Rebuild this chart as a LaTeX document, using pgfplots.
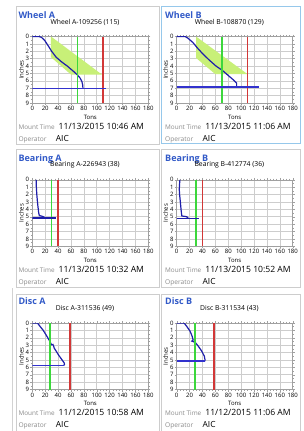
\documentclass[border=0pt]{standalone}
\usepackage{pgfplots}
\pgfplotsset{compat=1.18}
\usepackage{fontspec}
\setmainfont{Open Sans}
\definecolor{curveblue}{RGB}{30,30,170}
\definecolor{lineblue}{RGB}{50,50,205}
\definecolor{limitgreen}{RGB}{60,215,60}
\definecolor{limitred}{RGB}{210,55,55}
\definecolor{bandgreen}{RGB}{200,240,120}
\definecolor{titleblue}{RGB}{50,90,200}
\definecolor{framegray}{RGB}{205,205,205}
\definecolor{selblue}{RGB}{150,200,235}
\definecolor{labgray}{RGB}{140,140,140}
\definecolor{gridgray}{RGB}{205,205,205}
\definecolor{axgray}{RGB}{160,160,160}

\pgfplotsset{
  panel/.style={
    scale only axis, width=116pt, height=66.5pt, anchor=north west,
    xmin=0, xmax=180, ymin=0, ymax=9, y dir=reverse,
    xtick={0,20,...,180}, ytick={0,1,...,9},
    minor x tick num=3, minor y tick num=1,
    grid=major, major grid style={draw=gridgray, line width=0.5pt},
    axis line style={draw=axgray, line width=0.5pt},
    tick style={draw=axgray, line width=0.4pt},
    tick align=outside, major tick length=2pt, minor tick length=1.2pt,
    /pgf/number format/assume math mode=true,
    ticklabel style={font=\fontsize{6}{6}\selectfont, inner sep=1pt},
    xlabel={Tons}, ylabel={Inches},
    label style={font=\fontsize{6}{6}\selectfont},
    xlabel style={at={(axis description cs:0.5,-0.215)}, anchor=center},
    ylabel style={at={(axis description cs:-0.095,0.5)}, anchor=center},
    title style={at={(axis description cs:0.454,1.128)}, anchor=center, font=\fontsize{6.8}{7}\selectfont},
  },
  curve/.style={color=curveblue, line width=1.2pt, mark=none},
  hline/.style={color=lineblue, line width=1.6pt, mark=none},
  band/.style={fill=bandgreen, draw=none, mark=none},
  glim/.style={color=limitgreen, line width=1.7pt, mark=none},
  rlim/.style={color=limitred, line width=1.7pt, mark=none},
}

\newcommand\ptxt[5]{%
  \node[anchor=base west, inner sep=0pt, text=titleblue, font=\fontsize{9}{9}\selectfont\bfseries] at ({#1*1pt},{-(#2+18.2)*1pt}) {#3};
  \node[anchor=base west, inner sep=0pt, text=labgray, font=\fontsize{6.4}{7}\selectfont] at ({#1*1pt},{-(#2+129.2)*1pt}) {Mount Time};
  \node[anchor=base west, inner sep=0pt, font=\fontsize{8.6}{9}\selectfont] at ({(#1+40.2)*1pt},{-(#2+129.2)*1pt}) {#4};
  \node[anchor=base west, inner sep=0pt, text=labgray, font=\fontsize{6.6}{7}\selectfont] at ({#1*1pt},{-(#2+141.4)*1pt}) {Operator};
  \node[anchor=base west, inner sep=0pt, font=\fontsize{8.4}{9}\selectfont] at ({(#1+37.4)*1pt},{-(#2+141.4)*1pt}) {#5};
}

\begin{document}
\begin{tikzpicture}
\useasboundingbox (0pt,0pt) rectangle (303pt,-431pt);
\fill[white] (0pt,0pt) rectangle (303pt,-431pt);
% frames
\draw[framegray, line width=0.6pt] (16pt,-6pt) rectangle (159pt,-144pt);
\draw[selblue, line width=1pt] (161.7pt,-6.5pt) rectangle (300.7pt,-143.5pt);
\draw[framegray, line width=0.6pt] (16pt,-149.3pt) rectangle (159pt,-287.5pt);
\draw[framegray, line width=0.6pt] (161.7pt,-149.3pt) rectangle (300.7pt,-287.5pt);
\draw[framegray, line width=0.6pt] (16pt,-294pt) rectangle (159pt,-440pt);
\draw[framegray, line width=0.6pt] (161.7pt,-294pt) rectangle (300.7pt,-440pt);
\draw[gray!35, line width=0.5pt] (12pt,-288pt) -- (12pt,-431pt);

\ptxt{18.3}{0}{Wheel A}{11/13/2015 10:46 AM}{AIC}
\ptxt{165}{0}{Wheel B}{11/13/2015 11:06 AM}{AIC}
\ptxt{18.3}{143.3}{Bearing A}{11/13/2015 10:32 AM}{AIC}
\ptxt{165}{143.3}{Bearing B}{11/13/2015 10:52 AM}{AIC}
\ptxt{18.3}{286.5}{Disc A}{11/12/2015 10:58 AM}{AIC}
\ptxt{165}{286.5}{Disc B}{11/12/2015 11:06 AM}{AIC}

% Wheel A
\begin{axis}[panel, at={(32.3pt,-36.5pt)}, title={Wheel A-109256 (115)}]
\addplot[band] coordinates {(29,0) (108,5.15) (60,5.15) (29,2.8) (29,0)};
\addplot[curve] coordinates {(0,0) (10,0) (14,0.1) (19,0.5) (25,1.3) (30,2.0) (37,2.8) (45,3.4) (55,4.05) (65,4.8) (70,5.2) (74,5.6) (77,6.1) (78.3,6.6) (78.6,7.05)};
\addplot[glim] coordinates {(70,0) (70,9)};
\addplot[rlim] coordinates {(110,0) (110,9)};
\addplot[hline] coordinates {(0,7.05) (114,7.05)};
\end{axis}

% Wheel B
\begin{axis}[panel, at={(176.7pt,-36.5pt)}, title={Wheel B-108870 (129)}]
\addplot[band] coordinates {(30,0) (110,5.1) (60,5.1) (30,2.9) (30,0)};
\addplot[curve] coordinates {(0,0) (13,0) (17,0.2) (25,0.8) (32.6,1.6) (40,2.3) (50,3.15) (61,4.0) (71,4.6) (81,5.35) (89,5.95) (93,6.3) (93,6.86)};
\addplot[glim] coordinates {(70,0) (70,9)};
\addplot[rlim] coordinates {(110,0) (110,9)};
\addplot[hline] coordinates {(0,6.86) (128,6.86)};
\end{axis}

% Bearing A
\begin{axis}[panel, at={(32.3pt,-179.8pt)}, title={Bearing A-226943 (38)}]
\addplot[curve] coordinates {(6,0) (6.3,1) (7,2) (8,3) (9,3.8) (10,4.5) (11,4.85) (14,4.9) (17,5.0) (19,5.1) (20,5.2)};
\addplot[glim] coordinates {(30,0) (30,9)};
\addplot[rlim] coordinates {(40,0) (40,9)};
\addplot[hline, color=curveblue] coordinates {(0,5.2) (37,5.2)};
\end{axis}

% Bearing B
\begin{axis}[panel, at={(176.7pt,-179.8pt)}, title={Bearing B-412774 (36)}]
\addplot[curve] coordinates {(5,0) (4.5,0.5) (4,1.3) (4.5,2) (5.2,2.6) (6,3.3) (6.7,4) (7.5,4.6) (8,4.9) (12,4.95) (15.5,5.0) (18,5.2)};
\addplot[glim] coordinates {(30,0) (30,9)};
\addplot[rlim] coordinates {(40,0) (40,9)};
\addplot[hline, color=curveblue] coordinates {(0,5.22) (35,5.22)};
\end{axis}

% Disc A
\begin{axis}[panel, at={(32.3pt,-323pt)}, title={Disc A-311536 (49)}]
\addplot[curve] coordinates {(0,0) (8,0) (12,0.45) (17,1) (22,1.7) (26,2.3) (29,2.8) (30,2.95) (32,2.9) (33,3.1) (34,3.4) (37,3.8) (40.5,4.3) (45,4.85) (49.5,5.4) (50,5.6) (48.5,5.77)};
\addplot[glim] coordinates {(28,0) (28,9)};
\addplot[rlim] coordinates {(58,0) (58,9)};
\addplot[hline] coordinates {(0,5.77) (48.5,5.77)};
\end{axis}

% Disc B
\begin{axis}[panel, at={(176.7pt,-323pt)}, title={Disc B-311534 (43)}]
\addplot[curve] coordinates {(0,0) (11.5,0) (15.5,0.45) (20.7,1.1) (24,1.8) (25.5,2.3) (23.5,2.45) (25,2.5) (28,2.6) (30,2.75) (33.6,3.15) (38.8,3.8) (42.9,4.5) (44,5.0) (43.5,5.18)};
\addplot[glim] coordinates {(28,0) (28,9)};
\addplot[rlim] coordinates {(58,0) (58,9)};
\addplot[hline] coordinates {(0,5.18) (44,5.18)};
\end{axis}
\end{tikzpicture}
\end{document}
